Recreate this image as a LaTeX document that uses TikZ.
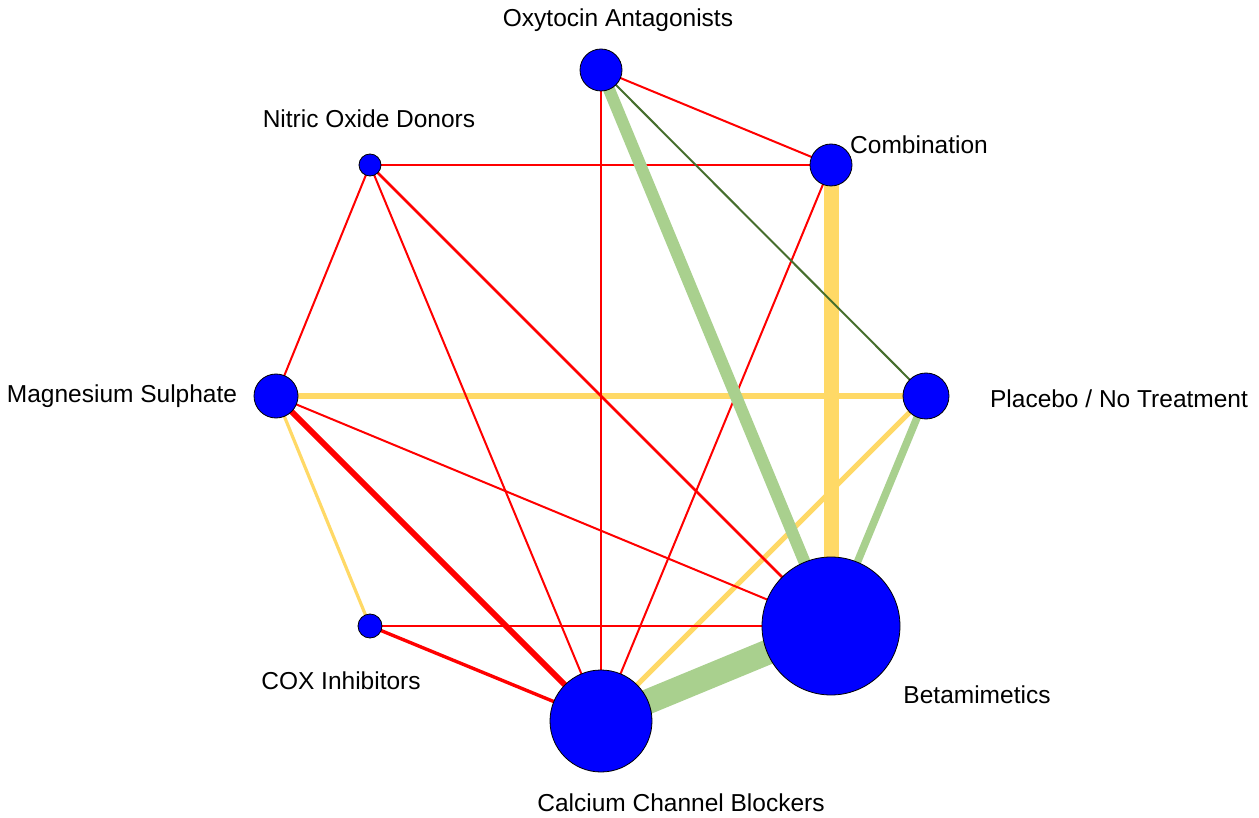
\documentclass[tikz,border=0pt]{standalone}
\usepackage{fontspec}
\setmainfont{Liberation Sans}
\usetikzlibrary{graphs}
\pgfdeclarelayer{background}
\pgfsetlayers{background,main}
\definecolor{netblue}{RGB}{0,0,255}
\definecolor{netred}{RGB}{255,0,0}
\definecolor{netgreen}{RGB}{169,208,142}
\definecolor{netyellow}{RGB}{255,217,102}
\definecolor{netdark}{RGB}{70,110,45}
\tikzset{
  drug/.style= {draw=black, line width=0.4pt, circle, fill=netblue, inner sep=0},
  lbl/.style= {font=\fontsize{12.25}{14}\selectfont, inner sep=0},
  link/.style= {shorten <=-3pt, shorten >=-3pt},
  rline/.style= {link, netred},
  yline/.style= {link, netyellow},
  gline/.style= {link, netgreen},
  dline/.style= {link, netdark},
}

\begin{document}
\begin{tikzpicture}[x=0.5pt, y=-0.5pt]
  \useasboundingbox (0,0) rectangle (1259,818);
  \node [drug, minimum size=21pt] (oa) at (601,70) {} ;
  \node [drug, minimum size=11pt] (nod) at (370,165) {} ;
  \node [drug, minimum size=21pt] (comb) at (831,165) {} ;
  \node [drug, minimum size=22pt] (mgs) at (276,396) {} ;
  \node [drug, minimum size=23pt] (plac) at (926,396) {} ;
  \node [drug, minimum size=12pt] (cox) at (370,626) {} ;
  \node [drug, minimum size=51pt] (ccb) at (601,721) {} ;
  \node [drug, minimum size=69pt] (beta) at (831,626) {} ;

  \node [lbl] (oa-l) at (618,20) {Oxytocin Antagonists} ;
  \node [lbl] (nod-l) at (369,119) {Nitric Oxide Donors} ;
  \node [lbl] (comb-l) at (919,145) {Combination} ;
  \node [lbl] (mgs-l) at (122,396) {Magnesium Sulphate} ;
  \node [lbl] (plac-l) at (1119,399) {Placebo / No Treatment} ;
  \node [lbl] (cox-l) at (341,681) {COX Inhibitors} ;
  \node [lbl] (beta-l) at (977,695) {Betamimetics} ;
  \node [lbl] (ccb-l) at (681,803) {Calcium Channel Blockers} ;

  \begin{pgfonlayer}{background}
  \graph {
    (comb) --[yline, line width=7.5pt] (beta) ;
    (mgs) --[yline, line width=3.3pt] (plac) ;
    (mgs) --[yline, line width=1.6pt] (cox) ;
    (plac) --[yline, line width=2.6pt] (ccb) ;
    (oa) --[rline, line width=1pt] (comb) ;
    (oa) --[rline, line width=1.35pt] (ccb) ;
    (nod) --[rline, line width=1pt] (comb) ;
    (nod) --[rline, line width=1pt] (mgs) ;
    (nod) --[rline, line width=1pt] (ccb) ;
    (nod) --[rline, line width=1.3pt] (beta) ;
    (comb) --[rline, line width=1pt] (ccb) ;
    (mgs) --[rline, line width=3pt] (ccb) ;
    (mgs) --[rline, line width=1pt] (beta) ;
    (cox) --[rline, line width=1.2pt] (beta) ;
    (cox) --[rline, line width=1.7pt] (ccb) ;
    (oa) --[dline, line width=1pt] (plac) ;
    (oa) --[gline, line width=6pt] (beta) ;
    (plac) --[gline, line width=3.8pt] (beta) ;
    (ccb) --[gline, line width=12.5pt] (beta) ;
  } ;
  \end{pgfonlayer}
\end{tikzpicture}
\end{document}
